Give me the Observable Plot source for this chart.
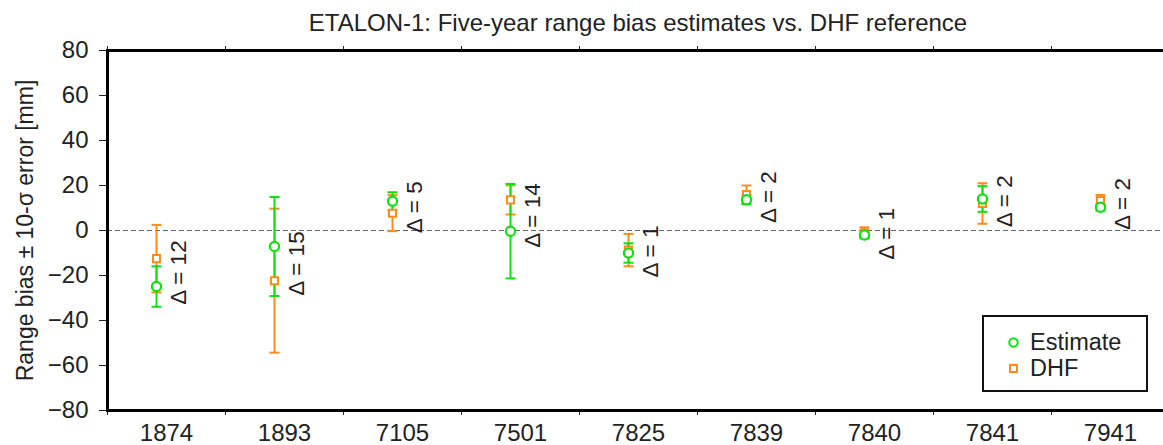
<!DOCTYPE html>
<html>
<head>
<meta charset="utf-8">
<script src="https://cdn.jsdelivr.net/npm/d3@7"></script>
<script src="https://cdn.jsdelivr.net/npm/@observablehq/plot@0.6"></script>
<style>
  html, body { margin: 0; padding: 0; background: #fff; overflow: hidden; }
  #wrap { position: relative; width: 1163px; height: 445px; font-family: "Liberation Sans", Arial, sans-serif; color: #222; }
  #title { position: absolute; left: 638px; top: 11px; transform: translateX(-50%); white-space: nowrap; font-size: 24px; line-height: 24px; }
  #legend { position: absolute; left: 982px; top: 315px; width: 162px; height: 73px; border: 2px solid #111; background: #fff; font-size: 23.5px; }
  #legend .row { position: absolute; left: 24px; display: flex; align-items: center; height: 26px; }
  #legend svg { overflow: visible; display: block; }
  #chart svg { overflow: hidden; }
</style>
</head>
<body>
<div id="wrap">
  <div id="chart"></div>
  <div id="title">ETALON-1: Five-year range bias estimates vs. DHF reference</div>
  <div id="legend"></div>
</div>
<script>
const stations = ["1874", "1893", "7105", "7501", "7825", "7839", "7840", "7841", "7941"];
const estValue = [-24.9, -7.1, 13.0, -0.3, -10.0, 13.7, -2.0, 14.0, 10.3];
const estError = [9, 22, 4, 21, 4.3, 2, 1.5, 5.7, 1.5];
const dhfValue = [-12.5, -22.3, 7.7, 13.6, -8.7, 16.0, -1.0, 12.0, 13.3];
const dhfError = [15, 32, 8, 6.5, 7.2, 4, 2.4, 9, 2.5];
const deltas = [12, 15, 5, 14, 1, 2, 1, 2, 2];
const yTicks = [-80, -60, -40, -20, 0, 20, 40, 60, 80];
const seriesNames = ["Estimate", "DHF"];
const green = "#10e010";
const orange = "#ff8c1a";

const rows = stations.map((s, i) => ({
  station: s, i, pos: i + 0.5,
  est: estValue[i], estE: estError[i],
  dhf: dhfValue[i], dhfE: dhfError[i],
  delta: deltas[i], mid: (estValue[i] + dhfValue[i]) / 2
}));
const bounds = d3.range(stations.length + 1);
const centers = stations.map((s, i) => i + 0.5);

const cap = { draw(ctx, size) { const h = Math.sqrt(size / Math.PI); ctx.moveTo(-h, 0); ctx.lineTo(h, 0); } };
const OFF = -10;

function bars(val, err, color) {
  return [
    Plot.ruleX(rows, { x: "pos", y1: d => d[val] - d[err], y2: d => d[val] + d[err], dx: OFF, stroke: color, strokeWidth: 2 }),
    Plot.dot(rows, { x: "pos", y: d => d[val] - d[err], dx: OFF, symbol: cap, r: 5, stroke: color, strokeWidth: 2, fill: "none" }),
    Plot.dot(rows, { x: "pos", y: d => d[val] + d[err], dx: OFF, symbol: cap, r: 5, stroke: color, strokeWidth: 2, fill: "none" })
  ];
}

const chart = Plot.plot({
  width: 1163,
  height: 445,
  marginTop: 50,
  marginBottom: 35,
  marginLeft: 107,
  marginRight: -6,
  style: { fontFamily: "Liberation Sans, Arial, sans-serif", color: "#222", background: "#fff", overflow: "hidden" },
  x: { domain: [0, stations.length] },
  y: { domain: [-80, 80] },
  marks: [
    Plot.ruleY([0], { stroke: "#666", strokeWidth: 1, strokeDasharray: "5,3" }),
    ...bars("dhf", "dhfE", orange),
    ...bars("est", "estE", green),
    Plot.dot(rows, { x: "pos", y: "dhf", dx: OFF, symbol: "square", r: 4, stroke: orange, strokeWidth: 2, fill: "#fff" }),
    Plot.dot(rows, { x: "pos", y: "est", dx: OFF, symbol: "circle", r: 4.6, stroke: green, strokeWidth: 2.2, fill: "#fff" }),
    Plot.text(rows, { x: "pos", y: "mid", text: d => `Δ = ${d.delta}`, rotate: -90, dx: 12, fontSize: 22.5, fill: "#222", textAnchor: "middle" }),
    Plot.axisY({ ticks: yTicks, tickSize: 8, tickPadding: 11, fontSize: 24, label: null, stroke: "#222" }),
    Plot.axisX({ ticks: bounds, tickSize: 5, tickFormat: () => "", label: null, anchor: "bottom" }),
    Plot.axisX({ ticks: bounds, tickSize: 5, tickFormat: () => "", label: null, anchor: "top" }),
    Plot.axisX({ ticks: centers, tickSize: 0, tickPadding: 13, tickFormat: d => stations[Math.floor(d)], fontSize: 24, label: null, anchor: "bottom" }),
    Plot.text(["Range bias ± 10-σ error [mm]"], { frameAnchor: "left", rotate: -90, dx: -82, fontSize: 23, fill: "#222", textAnchor: "middle" }),
    Plot.frame({ stroke: "#000", strokeWidth: 3 })
  ]
});
document.getElementById("chart").appendChild(chart);

// legend
const legend = document.getElementById("legend");
const sym = [
  `<svg width="11" height="11"><circle cx="5.5" cy="5.5" r="4.2" fill="#fff" stroke="${green}" stroke-width="2"/></svg>`,
  `<svg width="11" height="11"><rect x="2" y="2" width="7" height="7" fill="#fff" stroke="${orange}" stroke-width="2"/></svg>`
];
seriesNames.forEach((name, k) => {
  const r = document.createElement("div");
  r.className = "row";
  r.style.top = (12 + k * 26) + "px";
  r.innerHTML = sym[k] + `<span style="margin-left:11px">${name}</span>`;
  legend.appendChild(r);
});
</script>
</body>
</html>
